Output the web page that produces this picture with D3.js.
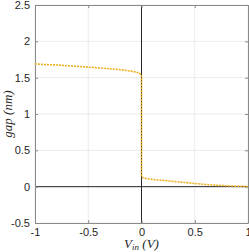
<!DOCTYPE html>
<html>
<head>
<meta charset="utf-8">
<script src="https://cdn.jsdelivr.net/npm/d3@7"></script>
<style>
  body { margin: 0; background: #fff; }
  svg { display: block; }
</style>
</head>
<body>
<svg id="chart"></svg>
<script>
// data
const leftV   = [-1, -0.9, -0.8, -0.7, -0.6, -0.5, -0.4, -0.3, -0.2, -0.1, -0.05, -0.02, 0];
const leftGap = [1.69, 1.68, 1.675, 1.665, 1.655, 1.645, 1.635, 1.622, 1.61, 1.59, 1.576, 1.562, 1.54];
const rightV   = [0, 0.01, 0.05, 0.1, 0.2, 0.3, 0.4, 0.5, 0.6, 0.7, 0.8, 0.9, 1];
const rightGap = [0.14, 0.125, 0.11, 0.1, 0.087, 0.072, 0.058, 0.044, 0.03, 0.02, 0.012, 0.006, 0.002];
const xTicks = [-1, -0.5, 0, 0.5, 1];
const yTicks = [-0.5, 0, 0.5, 1, 1.5, 2, 2.5];

const width = 249, height = 252;
const margin = {left: 35, right: 1, top: 5, bottom: 29};

const svg = d3.select('#chart').attr('width', width).attr('height', height);

const xScale = d3.scaleLinear()
    .domain([-1, 1])
    .range([margin.left, width - margin.right]);
const yScale = d3.scaleLinear()
    .domain([-0.5, 2.5])
    .range([height - margin.bottom, margin.top]);

const x0 = margin.left, x1 = width - margin.right;
const y0 = height - margin.bottom, y1 = margin.top;

// grid
svg.append('g').selectAll('line').data(xTicks).join('line')
    .attr('x1', d => xScale(d)).attr('x2', d => xScale(d))
    .attr('y1', y0).attr('y2', y1)
    .attr('stroke', '#ebebeb').attr('stroke-width', 1);
svg.append('g').selectAll('line').data(yTicks).join('line')
    .attr('x1', x0).attr('x2', x1)
    .attr('y1', d => yScale(d)).attr('y2', d => yScale(d))
    .attr('stroke', '#ebebeb').attr('stroke-width', 1);

// zero lines
svg.append('line')
    .attr('x1', xScale(0)).attr('x2', xScale(0)).attr('y1', y0).attr('y2', y1)
    .attr('stroke', '#262626').attr('stroke-width', 1);
svg.append('line')
    .attr('x1', x0).attr('x2', x1).attr('y1', yScale(0)).attr('y2', yScale(0))
    .attr('stroke', '#262626').attr('stroke-width', 1);

// axes
let fmt = d => String(d);
let xAxis = d3.axisBottom(xScale).tickValues(xTicks).tickFormat(fmt).tickSizeInner(-3).tickSizeOuter(0).tickPadding(5),
    xAxisTop = d3.axisTop(xScale).tickValues(xTicks).tickFormat('').tickSizeInner(-3).tickSizeOuter(0),
    yAxis = d3.axisLeft(yScale).tickValues(yTicks).tickFormat(fmt).tickSizeInner(-3).tickSizeOuter(0).tickPadding(5),
    yAxisRight = d3.axisRight(yScale).tickValues(yTicks).tickFormat('').tickSizeInner(-3).tickSizeOuter(0);

svg.append('g').attr('transform', `translate(0, ${y0})`).call(xAxis);
svg.append('g').attr('transform', `translate(0, ${y1})`).call(xAxisTop);
svg.append('g').attr('transform', `translate(${x0}, 0)`).call(yAxis);
svg.append('g').attr('transform', `translate(${x1}, 0)`).call(yAxisRight);

svg.selectAll('.domain').attr('stroke', '#8a8a8a');
svg.selectAll('.tick line').attr('stroke', '#8a8a8a');
svg.selectAll('.tick text')
    .attr('fill', '#262626')
    .style('font-family', 'Liberation Sans, Arial, sans-serif')
    .style('font-size', '11px');

// curve
let lineGen = d3.line()
    .x(d => xScale(d[0]))
    .y(d => yScale(d[1]));
const curve = leftV.map((v, i) => [v, leftGap[i]])
    .concat(rightV.map((v, i) => [v, rightGap[i]]));
svg.append('path')
    .attr('d', lineGen(curve))
    .attr('stroke', '#EDB120')
    .attr('stroke-width', 1.6)
    .attr('stroke-dasharray', '2,1')
    .attr('fill', 'none');

// labels
const yl = svg.append('text')
    .attr('transform', `translate(12, ${(y0 + y1) / 2}) rotate(-90)`)
    .attr('text-anchor', 'middle')
    .attr('fill', '#262626')
    .style('font-family', 'Liberation Serif, DejaVu Serif, serif')
    .style('font-style', 'italic')
    .style('font-size', '13px');
yl.append('tspan').text('gap (nm)');

const xl = svg.append('text')
    .attr('x', xScale(0))
    .attr('y', 248)
    .attr('text-anchor', 'middle')
    .attr('fill', '#262626')
    .style('font-family', 'Liberation Serif, DejaVu Serif, serif')
    .style('font-style', 'italic')
    .style('font-size', '13px');
xl.append('tspan').text('V');
xl.append('tspan').attr('dy', 2).style('font-size', '9px').text('in');
xl.append('tspan').attr('dy', -2).text(' (V)');
</script>
</body>
</html>
